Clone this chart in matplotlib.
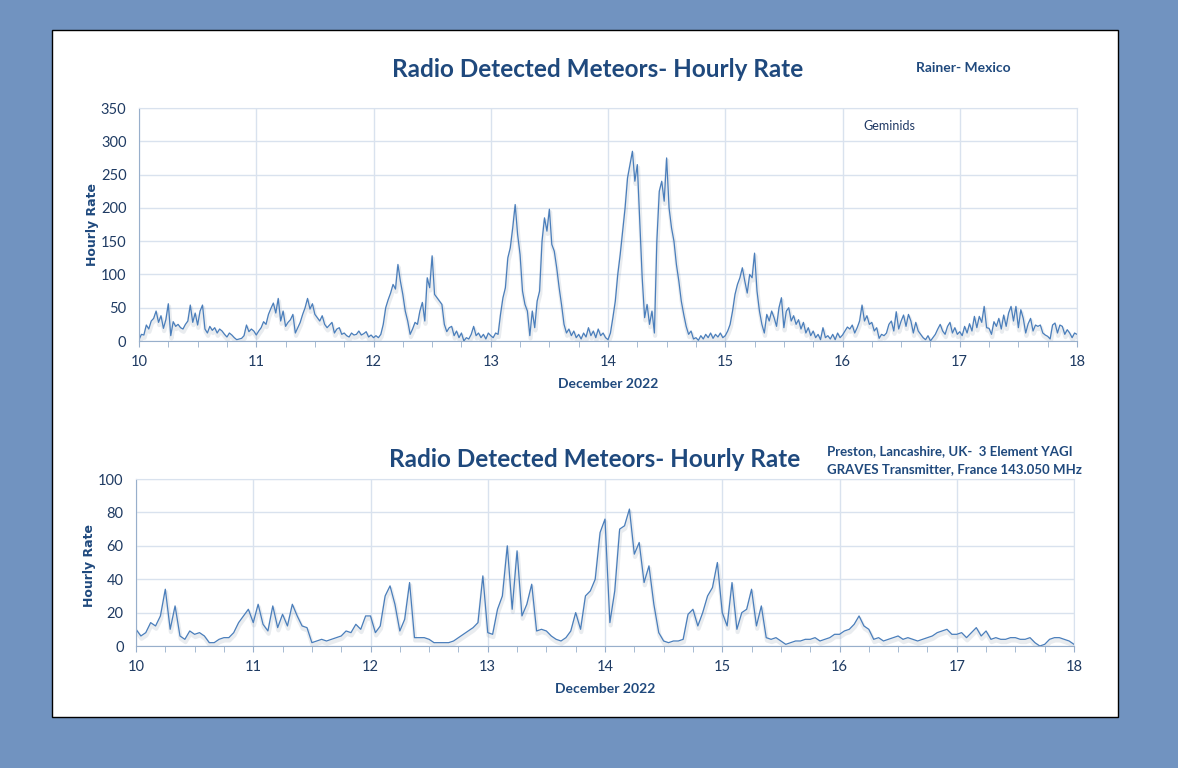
import numpy as np
import matplotlib
matplotlib.use("Agg")
import matplotlib.pyplot as plt
import matplotlib.patheffects as pe
from matplotlib.patches import Rectangle
from matplotlib.ticker import MultipleLocator

plt.rcParams['font.family'] = ['Lato', 'DejaVu Sans']

# Rainer - Mexico, half-hourly samples, 10 Dec 00:00 -> 18 Dec 00:00
mexico_dec10 = [2, 10, 9, 24, 18, 30, 34, 45, 28, 38, 19, 32, 56, 8, 29, 22, 25, 20, 18, 25, 30, 54, 28, 42,
                24, 45, 54, 18, 12, 22, 16, 20, 12, 18, 15, 10, 6, 12, 9, 5, 2, 3, 4, 8, 24, 14, 18, 15]
mexico_dec11 = [9, 15, 20, 29, 25, 40, 49, 57, 42, 64, 30, 45, 22, 28, 32, 40, 12, 20, 28, 40, 50, 64, 48, 56,
                40, 35, 30, 38, 25, 20, 24, 28, 12, 18, 20, 10, 12, 8, 6, 12, 9, 10, 15, 9, 11, 14, 6, 9]
mexico_dec12 = [5, 8, 5, 10, 25, 50, 62, 72, 85, 78, 115, 90, 70, 45, 30, 10, 18, 28, 25, 45, 58, 30, 95, 80,
                128, 70, 65, 60, 55, 25, 14, 20, 22, 8, 15, 5, 12, 0, 5, 3, 10, 22, 8, 12, 5, 10, 3, 12]
mexico_dec13 = [8, 5, 12, 10, 40, 65, 80, 125, 140, 170, 205, 160, 130, 75, 55, 45, 8, 45, 20, 60, 75, 150, 185, 165,
                198, 145, 135, 110, 80, 54, 25, 12, 18, 8, 15, 5, 10, 3, 12, 6, 20, 8, 15, 5, 18, 8, 12, 5]
mexico_dec14 = [2, 12, 35, 60, 100, 130, 165, 200, 245, 265, 285, 240, 265, 180, 95, 35, 55, 25, 45, 12, 150, 225, 240, 210,
                275, 200, 170, 150, 115, 90, 60, 40, 22, 10, 15, 3, 5, 1, 8, 3, 10, 5, 12, 4, 10, 6, 12, 5]
mexico_dec15 = [8, 15, 25, 45, 70, 85, 95, 110, 90, 72, 100, 95, 132, 75, 45, 25, 12, 40, 30, 45, 35, 22, 50, 65,
                20, 45, 50, 30, 38, 25, 32, 18, 28, 12, 20, 8, 15, 5, 10, 2, 20, 5, 8, 3, 10, 2, 12, 5]
mexico_dec16 = [9, 15, 21, 18, 24, 12, 20, 30, 54, 30, 38, 25, 28, 15, 20, 4, 10, 8, 12, 25, 30, 15, 44, 18,
                30, 39, 22, 40, 30, 12, 28, 15, 10, 5, 2, 8, 0, 5, 10, 18, 25, 15, 10, 22, 28, 12, 20, 10]
mexico_dec17 = [14, 8, 22, 12, 26, 15, 37, 20, 37, 28, 52, 20, 19, 10, 29, 22, 34, 18, 39, 22, 42, 52, 30, 52,
                20, 47, 34, 12, 26, 34, 15, 24, 22, 24, 12, 9, 7, 3, 24, 27, 12, 24, 22, 10, 17, 12, 5, 12, 10]

# Preston, UK - hourly samples, same period
uk_dec10 = [10, 6, 8, 14, 12, 18, 34, 10, 24, 6, 4, 9, 7, 8, 6, 2, 2, 4, 5, 5, 8, 14, 18, 22]
uk_dec11 = [14, 25, 13, 9, 24, 11, 19, 12, 25, 18, 12, 11, 2, 3, 4, 3, 4, 5, 6, 9, 8, 13, 10, 18]
uk_dec12 = [18, 8, 12, 30, 36, 25, 9, 16, 38, 5, 5, 5, 4, 2, 2, 2, 2, 3, 5, 7, 9, 11, 14, 42]
uk_dec13 = [8, 7, 22, 30, 60, 22, 57, 18, 25, 37, 9, 10, 9, 6, 4, 3, 5, 9, 20, 10, 30, 33, 40, 68]
uk_dec14 = [76, 14, 33, 70, 72, 82, 55, 62, 38, 48, 25, 8, 3, 2, 3, 3, 4, 19, 22, 12, 20, 30, 35, 50]
uk_dec15 = [20, 12, 38, 10, 20, 22, 34, 12, 24, 5, 4, 5, 3, 1, 2, 3, 3, 4, 4, 5, 3, 4, 5, 7]
uk_dec16 = [7, 9, 10, 13, 18, 12, 10, 4, 5, 3, 4, 5, 6, 4, 5, 4, 3, 4, 5, 6, 8, 9, 10, 7]
uk_dec17 = [7, 8, 5, 8, 11, 6, 9, 4, 5, 4, 4, 5, 5, 4, 4, 5, 2, 0, 1, 4, 5, 5, 4, 3, 1]

mexico = (mexico_dec10 + mexico_dec11 + mexico_dec12 + mexico_dec13 +
          mexico_dec14 + mexico_dec15 + mexico_dec16 + mexico_dec17)
uk = uk_dec10 + uk_dec11 + uk_dec12 + uk_dec13 + uk_dec14 + uk_dec15 + uk_dec16 + uk_dec17

mexico_days = 10 + np.arange(len(mexico)) / 48
uk_days = 10 + np.arange(len(uk)) / 24

day_ticks = list(range(10, 19))
title = "Radio Detected Meteors- Hourly Rate"

navy = '#1F497D'
tick_col = '#1F3B63'
grid_col = '#D9E2EE'
axis_col = '#98AFCB'
line_col = '#4A7EBB'

fig = plt.figure(figsize=(11.78, 7.68), dpi=100, facecolor='#7193C0')
fig.patches.append(Rectangle((52 / 1178, 1 - 717 / 768), (1118 - 52) / 1178, (717 - 30) / 768,
                             transform=fig.transFigure, facecolor='white', edgecolor='black',
                             linewidth=1, zorder=-5))

# soft drop shadow under the line, like the Excel original
shadow = [pe.SimpleLineShadow(offset=(0.5, -2), shadow_color='#7a8aa0', alpha=0.16, linewidth=3),
          pe.Normal()]


def style_axes(ax, ymax, ystep):
    ax.set_xlim(10, 18)
    ax.set_ylim(0, ymax)
    ax.set_xticks(day_ticks)
    ax.set_yticks(np.arange(0, ymax + 1, ystep))
    ax.xaxis.set_minor_locator(MultipleLocator(0.25))
    ax.grid(True, color=grid_col, linewidth=1)
    ax.set_axisbelow(True)
    for s in ['top', 'right']:
        ax.spines[s].set_color(grid_col)
    for s in ['left', 'bottom']:
        ax.spines[s].set_color(axis_col)
    ax.tick_params(axis='x', which='both', direction='out', color=axis_col, labelcolor=tick_col,
                   labelsize=10.5, pad=6)
    ax.tick_params(axis='x', which='major', length=4)
    ax.tick_params(axis='x', which='minor', length=4)
    ax.tick_params(axis='y', length=0, labelcolor=tick_col, labelsize=10.5, pad=9)
    ax.set_facecolor('white')


ax1 = fig.add_axes([139 / 1178, 1 - 341 / 768, 938 / 1178, 233 / 768])
style_axes(ax1, 350, 50)
ax1.plot(mexico_days, mexico, color=line_col, linewidth=0.9, path_effects=shadow)
ax1.set_xlabel("December 2022", fontsize=10, fontweight='bold', color=navy)
ax1.xaxis.set_label_coords(0.5, -0.16)
ax1.set_ylabel("Hourly Rate", fontsize=9, fontweight='bold', color=navy, family='DejaVu Sans')
ax1.yaxis.set_label_coords(-0.043, 0.5)

ax2 = fig.add_axes([136 / 1178, 1 - 646 / 768, 938 / 1178, 167 / 768])
style_axes(ax2, 100, 20)
ax2.plot(uk_days, uk, color=line_col, linewidth=0.9, path_effects=shadow)
ax2.set_xlabel("December 2022", fontsize=10, fontweight='bold', color=navy)
ax2.xaxis.set_label_coords(0.5, -0.22)
ax2.set_ylabel("Hourly Rate", fontsize=9, fontweight='bold', color=navy, family='DejaVu Sans')
ax2.yaxis.set_label_coords(-0.043, 0.48)

fig.text(0.507, 0.909, title, ha='center', va='center', fontsize=17.5, fontweight='bold', color=navy)
fig.text(0.778, 0.9115, "Rainer- Mexico", ha='left', va='center', fontsize=10, fontweight='bold', color=navy)
fig.text(0.7326, 0.836, "Geminids", ha='left', va='center', fontsize=9, color='#1F3864')

fig.text(0.505, 0.4023, title, ha='center', va='center', fontsize=17.5, fontweight='bold', color=navy)
fig.text(0.702, 0.4128, "Preston, Lancashire, UK-  3 Element YAGI", ha='left', va='center',
         fontsize=9.5, fontweight='bold', color=navy)
fig.text(0.702, 0.3893, "GRAVES Transmitter, France 143.050 MHz", ha='left', va='center',
         fontsize=9.5, fontweight='bold', color=navy)

fig.savefig("out.png", dpi=100, facecolor=fig.get_facecolor())
